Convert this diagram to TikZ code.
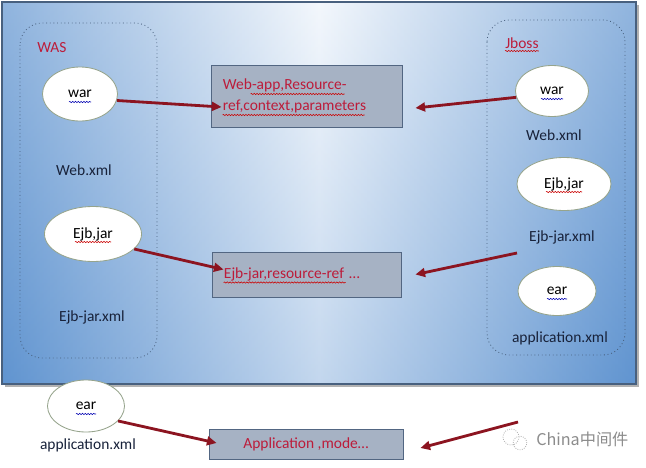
\documentclass[tikz,border=0pt]{standalone}
\usepackage{fontspec}
\setmainfont{Carlito}
\newfontfamily\cjk{Noto Sans CJK SC}
\usetikzlibrary{arrows.meta,positioning,calc,shapes.geometric,decorations.pathmorphing}

\definecolor{bgside}{RGB}{96,148,208}
\definecolor{bgmid}{RGB}{238,244,251}
\definecolor{bgframe}{RGB}{72,96,126}
\definecolor{boxfill}{RGB}{166,178,196}
\definecolor{boxline}{RGB}{82,102,130}
\definecolor{txtred}{RGB}{188,28,58}
\definecolor{arrred}{RGB}{140,20,32}
\definecolor{ovline}{RGB}{150,164,140}
\definecolor{txtnavy}{RGB}{24,34,58}

\begin{document}
\begin{tikzpicture}[
      x=0.025cm, y=-0.025cm,
      font=\fontsize{11}{15}\selectfont, text=txtnavy,
      oval/.style={draw=ovline, fill=white, ellipse, inner sep=0pt, line width=0.6pt, text=black},
      box/.style={draw=boxline, fill=boxfill, inner sep=0pt, line width=0.6pt, text=txtred},
      cont/.style={draw=bgframe, dotted, rounded corners=0.55cm, line width=0.6pt},
      head/.style={text=txtred, anchor=west, inner sep=0pt},
      note/.style={inner sep=0pt},
      arr/.style={-{Triangle[length=2.4mm,width=2.2mm]}, line width=2pt, draw=arrred},
      squig/.style={decorate, decoration={snake, amplitude=0.45pt, segment length=2pt}, line width=0.4pt},
    ]
    \useasboundingbox (0,0) rectangle (646,468);
    \fill[white] (0,0) rectangle (646,468);

    % --- the blue panel ---
    \fill[black!30] (5,5) rectangle (639,387);
    \shade[left color=bgside, right color=bgside, middle color=bgmid] (2,2) rectangle (636,384);
    \shade[top color=white, bottom color=bgside, fill opacity=0.3] (2,2) rectangle (636,384);
    \draw[bgframe, line width=0.8pt] (2,2) rectangle (636,384);

    % --- WAS side ---
    \draw[cont] (20,23) rectangle (157,358);
    \node[head] (was) at (37,48) {WAS};
    \node[oval, minimum width=1.875cm, minimum height=1.35cm] (wwar) at (80,94) {war};
    \node[note] (wweb) at (84,170) {Web.xml};
    \node[oval, minimum width=2.425cm, minimum height=1.375cm] (wejb) at (93,234) {Ejb,jar};
    \node[note] (wejbx) at (92,317) {Ejb-jar.xml};

    % --- Jboss side ---
    \draw[cont] (487,20) rectangle (625,355);
    \node[head] (jboss) at (505,43) {Jboss};
    \node[oval, minimum width=1.825cm, minimum height=1.275cm] (jwar) at (552,91) {war};
    \node[note] (jweb) at (554,135) {Web.xml};
    \node[oval, minimum width=2.35cm, minimum height=1.325cm] (jejb) at (564,184) {Ejb,jar};
    \node[note] (jejbx) at (562,237) {Ejb-jar.xml};
    \node[oval, minimum width=1.95cm, minimum height=1.225cm] (jear) at (557,291) {ear};
    \node[note] (japp) at (560,338) {application.xml};

    % --- descriptors in the middle ---
    \node[box, minimum width=4.775cm, minimum height=1.55cm, text width=4.175cm,
      inner xsep=0.3cm, align=left] (webbox) at (306.5,96) {Web-app,Resource-\\ref,context,parameters};
    \node[box, minimum width=4.725cm, minimum height=1.125cm, text width=4.125cm,
      inner xsep=0.3cm, align=left] (ejbbox) at (306.5,274.5) {Ejb-jar,resource-ref \dots};
    \node[box, minimum width=4.85cm, minimum height=0.75cm] (appbox) at (306,444) {Application ,mode\dots};

    % --- below the panel ---
    \node[oval, minimum width=1.925cm, minimum height=1.3cm] (bear) at (86,406) {ear};
    \node[note] (bapp) at (88,445) {application.xml};

    % --- spelling marks ---
    \draw[squig, blue!70!black] ($(wwar.center)+(-11,8)$) -- ($(wwar.center)+(11,8)$);
    \draw[squig, blue!70!black] ($(jwar.center)+(-11,8)$) -- ($(jwar.center)+(11,8)$);
    \draw[squig, blue!70!black] ($(jear.center)+(-10,8)$) -- ($(jear.center)+(10,8)$);
    \draw[squig, blue!70!black] ($(bear.center)+(-10,8)$) -- ($(bear.center)+(10,8)$);
    \draw[squig, red!80!black] ($(wejb.center)+(-18,8)$) -- ($(wejb.center)+(18,8)$);
    \draw[squig, red!80!black] ($(jejb.center)+(-18,8)$) -- ($(jejb.center)+(18,8)$);
    \draw[squig, red!80!black] ($(jboss.west)+(0,8)$) -- ($(jboss.east)+(0,8)$);
    \draw[squig, red!80!black] ($(webbox.west)+(40,-2)$) -- ($(webbox.west)+(134,-2)$);
    \draw[squig, red!80!black] ($(webbox.west)+(12,19)$) -- ($(webbox.west)+(154,19)$);
    \draw[squig, red!80!black] ($(ejbbox.west)+(12,8)$) -- ($(ejbbox.west)+(134,8)$);

    % --- connectors ---
    \coordinate (jfree) at (517,253);
    \coordinate (bfree) at (518,422);
    \draw[arr] (wwar.-10) -- ($(webbox.west)+(11,11)$);
    \draw[arr] (jwar.190) -- ($(webbox.east)+(13,12)$);
    \draw[arr] (wejb.-20) -- ($(ejbbox.west)+(12,-5)$);
    \draw[arr] (jfree) -- ($(ejbbox.east)+(14,0)$);
    \draw[arr] (bear.-25) -- ($(appbox.west)+(8,-1)$);
    \draw[arr] (bfree) -- ($(appbox.east)+(17,4)$);

    % --- watermark ---
    \draw[black!30, densely dotted, line width=0.6pt] (511,437) circle (0.2cm) (520,443) circle (0.17cm);
    \node[note, text=black!45, font=\cjk\fontsize{11.5}{13}\selectfont, anchor=west] (wm) at (536,439) {China中间件};
  \end{tikzpicture}
\end{document}
